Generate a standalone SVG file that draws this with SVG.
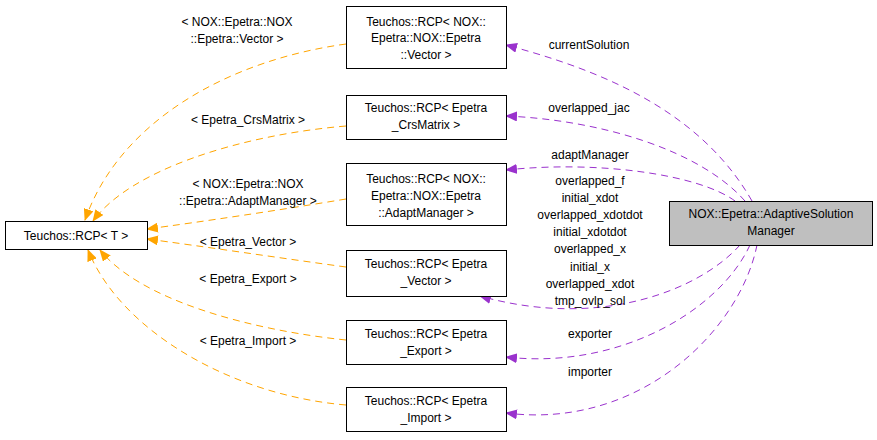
<svg xmlns="http://www.w3.org/2000/svg" width="877" height="440" viewBox="0 0 877 440">
<style>
text{font-family:"Liberation Sans",Arial,sans-serif;font-size:12px;text-anchor:middle;fill:#000}
.n{fill:#fff;stroke:#000;stroke-width:1}
.o{fill:none;stroke:#ffa500;stroke-dasharray:7,5}
.p{fill:none;stroke:#9a32cd;stroke-dasharray:7,5}
</style>
<defs>
<marker id="ao" markerWidth="12" markerHeight="10" refX="11" refY="5" orient="auto" markerUnits="userSpaceOnUse"><path d="M0,0L12,5L0,10z" fill="#ffa500"/></marker>
<marker id="ap" markerWidth="12" markerHeight="10" refX="11" refY="5" orient="auto" markerUnits="userSpaceOnUse"><path d="M0,0L12,5L0,10z" fill="#9a32cd"/></marker>
</defs>
<rect width="877" height="440" fill="#fff"/>
<g id="edges">
<path class="o" marker-end="url(#ao)" d="M346,44C230,60 120,120 85,220"/>
<path class="o" marker-end="url(#ao)" d="M346,126C240,135 130,170 93,221"/>
<path class="o" marker-end="url(#ao)" d="M346,199C280,210 200,222 147,229"/>
<path class="o" marker-end="url(#ao)" d="M346,267C280,258 200,246 147,239"/>
<path class="o" marker-end="url(#ao)" d="M346,340C250,330 140,300 100,250"/>
<path class="o" marker-end="url(#ao)" d="M346,405C230,395 120,330 88,250"/>
<path class="p" marker-end="url(#ap)" d="M752,201C700,110 600,70 506,45"/>
<path class="p" marker-end="url(#ap)" d="M745,201C700,150 600,120 506,116"/>
<path class="p" marker-end="url(#ap)" d="M735,201C700,175 600,160 506,170"/>
<path class="p" marker-end="url(#ap)" d="M740,245C700,290 600,330 480,296"/>
<path class="p" marker-end="url(#ap)" d="M750,245C720,310 620,370 506,357"/>
<path class="p" marker-end="url(#ap)" d="M757,245C740,330 640,430 506,413"/>
<text x="237" y="26">&lt; NOX::Epetra::NOX</text><text x="237" y="43">::Epetra::Vector &gt;</text>
<text x="248" y="124">&lt; Epetra_CrsMatrix &gt;</text>
<text x="248" y="188">&lt; NOX::Epetra::NOX</text><text x="248" y="205">::Epetra::AdaptManager &gt;</text>
<text x="248" y="246">&lt; Epetra_Vector &gt;</text>
<text x="248" y="283">&lt; Epetra_Export &gt;</text>
<text x="248" y="345">&lt; Epetra_Import &gt;</text>
<text x="589" y="49">currentSolution</text>
<text x="589" y="112">overlapped_jac</text>
<text x="590" y="159">adaptManager</text>
<text x="590" y="185">overlapped_f</text><text x="590" y="202">initial_xdot</text><text x="590" y="219">overlapped_xdotdot</text><text x="590" y="236">initial_xdotdot</text><text x="590" y="253">overlapped_x</text><text x="590" y="271">initial_x</text><text x="590" y="288">overlapped_xdot</text><text x="590" y="305">tmp_ovlp_sol</text>
<text x="590" y="338">exporter</text>
<text x="590" y="376">importer</text>
</g>
<g id="T"><rect class="n" x="5.5" y="221.5" width="142" height="28"/><text x="76" y="240">Teuchos::RCP&lt; T &gt;</text></g>
<g id="nv"><rect class="n" x="346.5" y="6.5" width="160" height="62"/><text x="426" y="26">Teuchos::RCP&lt; NOX::</text><text x="426" y="42">Epetra::NOX::Epetra</text><text x="426" y="59">::Vector &gt;</text></g>
<g id="crs"><rect class="n" x="346.5" y="95.5" width="160" height="44"/><text x="426" y="112">Teuchos::RCP&lt; Epetra</text><text x="426" y="129">_CrsMatrix &gt;</text></g>
<g id="am"><rect class="n" x="346.5" y="163.5" width="160" height="62"/><text x="426" y="183">Teuchos::RCP&lt; NOX::</text><text x="426" y="200">Epetra::NOX::Epetra</text><text x="426" y="217">::AdaptManager &gt;</text></g>
<g id="vec"><rect class="n" x="346.5" y="250.5" width="160" height="46"/><text x="426" y="268">Teuchos::RCP&lt; Epetra</text><text x="426" y="285">_Vector &gt;</text></g>
<g id="exp"><rect class="n" x="346.5" y="320.5" width="160" height="44"/><text x="426" y="338">Teuchos::RCP&lt; Epetra</text><text x="426" y="355">_Export &gt;</text></g>
<g id="imp"><rect class="n" x="346.5" y="387.5" width="160" height="44"/><text x="426" y="405">Teuchos::RCP&lt; Epetra</text><text x="426" y="422">_Import &gt;</text></g>
<g id="asm"><rect x="669.5" y="201.5" width="203" height="44" fill="#bfbfbf" stroke="#000"/><text x="771" y="218">NOX::Epetra::AdaptiveSolution</text><text x="771" y="235">Manager</text></g>
</svg>
